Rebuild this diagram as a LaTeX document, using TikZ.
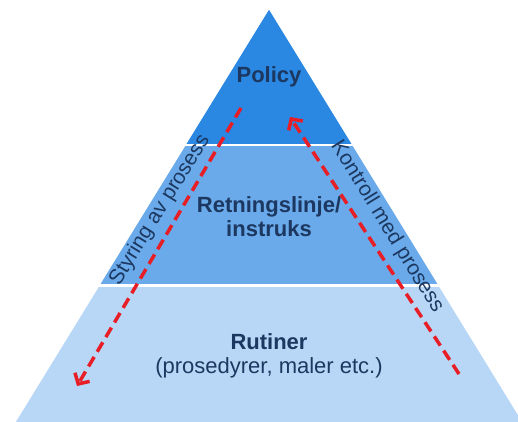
\documentclass[tikz,border=0pt]{standalone}
\usepackage{fontspec}
\setmainfont{Liberation Sans}
\usetikzlibrary{arrows.meta}
\definecolor{policyblue}{RGB}{42,135,226}
\definecolor{guideblue}{RGB}{106,170,234}
\definecolor{routineblue}{RGB}{184,215,246}
\definecolor{labelnavy}{RGB}{28,56,96}
\definecolor{flowred}{RGB}{232,30,38}

\begin{document}
\begin{tikzpicture}[x=1pt,y=-1pt,
  level/.style={font=\fontsize{22}{24}\selectfont\bfseries,text=labelnavy,align=center},
  side/.style={font=\fontsize{21}{24}\selectfont,text=labelnavy,inner sep=1pt},
  flow/.style={draw=flowred,line width=3.5pt,dash pattern=on 11pt off 6pt,
    -{Straight Barb[length=8pt,width=17pt]}}]
  \useasboundingbox (0,0) rectangle (518,421);
  \clip (0,0) rectangle (518,421);
  % pyramid bands
  \coordinate (apex) at (269,10);
  \fill[routineblue] (apex) -- (14,425) -- (524,425) -- cycle;
  \fill[guideblue] (apex) -- (100,285) -- (438,285) -- cycle;
  \fill[policyblue] (apex) -- (186,145) -- (352,145) -- cycle;
  \draw[white,line width=2.5pt] (150,145) -- (390,145);
  \draw[white,line width=2.5pt] (60,285.5) -- (480,285.5);
  % level labels
  \node[level] (policy) at (269,77) {Policy};
  \node[level] (guide) at (269,217) {Retningslinje/\\instruks};
  \node[level] (routine) at (269,356) {Rutiner\\\mdseries(prosedyrer, maler etc.)};
  % side labels
  \node[side,rotate=58.4] (steer) at (160,210) {Styring av prosess};
  \node[side,rotate=-58.4] (check) at (387,227) {Kontroll med prosess};
  % flows
  \coordinate (steertop) at (241,108);
  \coordinate (steerend) at (77,386);
  \coordinate (checkstart) at (459,374);
  \coordinate (checkend) at (290,117);
  \draw[flow] (steertop) -- (steerend);
  \draw[flow] (checkstart) -- (checkend);
\end{tikzpicture}
\end{document}
